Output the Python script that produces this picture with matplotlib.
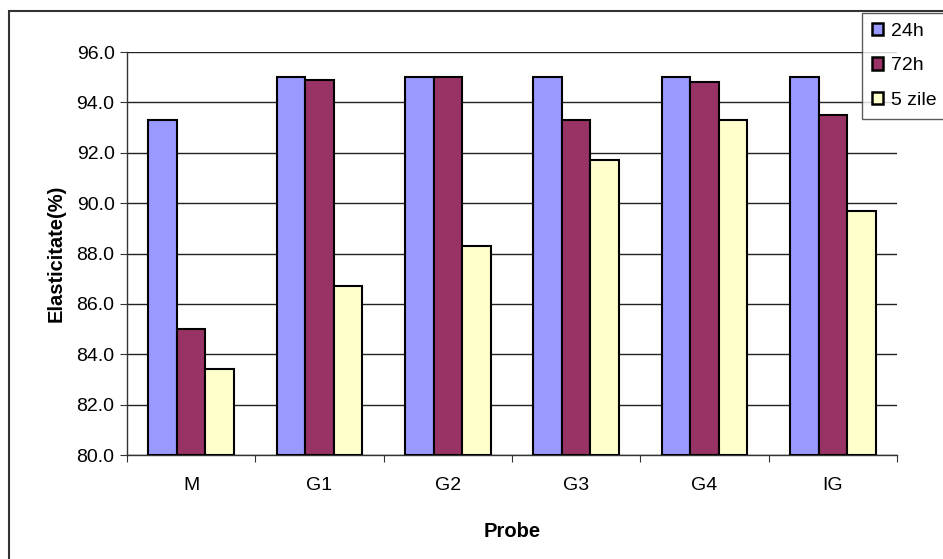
import numpy as np
import matplotlib
matplotlib.use("Agg")
import matplotlib.pyplot as plt
from matplotlib.patches import Rectangle

plt.rcParams['font.family'] = ['Liberation Sans', 'DejaVu Sans']

probe = ['M', 'G1', 'G2', 'G3', 'G4', 'IG']
val_24h = [93.3, 95.0, 95.0, 95.0, 95.0, 95.0]
val_72h = [85.0, 94.9, 95.0, 93.3, 94.8, 93.5]
val_5zile = [83.4, 86.7, 88.3, 91.7, 93.3, 89.7]
serii = ['24h', '72h', '5 zile']
culori = ['#9999FF', '#993366', '#FFFFCC']

fig = plt.figure(figsize=(9.43, 5.59), dpi=100)
W, H = 943, 559
ax = fig.add_axes([127 / W, 1 - 455 / H, (897 - 127) / W, (455 - 52) / H])

# chenar exterior
fig.patches.append(Rectangle((9 / W, -0.05), 1.05, 1 - 11 / H + 0.05,
                             transform=fig.transFigure, fill=False,
                             edgecolor='#333333', linewidth=1.5, zorder=0))

x = np.arange(len(probe))
lat = 1 / 4.5
for i, (vals, nume, c) in enumerate(zip([val_24h, val_72h, val_5zile], serii, culori)):
    ax.bar(x + (i - 1) * lat, np.array(vals) - 80.0, bottom=80.0, width=lat,
           color=c, edgecolor='black', linewidth=1.5, label=nume, zorder=3)

ax.set_ylim(80, 96)
ax.set_xlim(-0.5, len(probe) - 0.5)
ax.set_yticks(np.arange(80, 96.1, 2))
ax.set_yticklabels([f'{v:.1f}' for v in np.arange(80, 96.1, 2)], fontsize=14)
ax.yaxis.grid(True, color='#222222', linewidth=1.0, zorder=0)
ax.set_axisbelow(True)

ax.set_xticks(np.arange(-0.5, len(probe), 1.0))
ax.set_xticklabels([])
ax.set_xticks(x, minor=True)
ax.set_xticklabels(probe, minor=True, fontsize=14)
ax.tick_params(axis='x', which='minor', length=0, pad=16)
ax.tick_params(axis='x', which='major', length=5, direction='out', color='#333333')
ax.tick_params(axis='y', length=5, direction='out', color='#333333', pad=4)

for s in ['top', 'right']:
    ax.spines[s].set_visible(False)
for s in ['left', 'bottom']:
    ax.spines[s].set_color('#333333')
    ax.spines[s].set_linewidth(1.0)

ax.set_ylabel('Elasticitate(%)', fontsize=14.5, fontweight='bold', labelpad=8)
ax.set_xlabel('Probe', fontsize=14.5, fontweight='bold', labelpad=20)

leg = ax.legend(loc='upper left', bbox_to_anchor=(862 / W, 1 - 13 / H),
                bbox_transform=fig.transFigure, fontsize=14, frameon=True,
                fancybox=False, edgecolor='#333333', handlelength=0.6,
                handleheight=0.6, handletextpad=0.4, labelspacing=0.9,
                borderpad=0.5, borderaxespad=0)
leg.get_frame().set_linewidth(1.0)
for h in leg.legend_handles:
    h.set_linewidth(1.8)

fig.savefig('out.png', dpi=100)
